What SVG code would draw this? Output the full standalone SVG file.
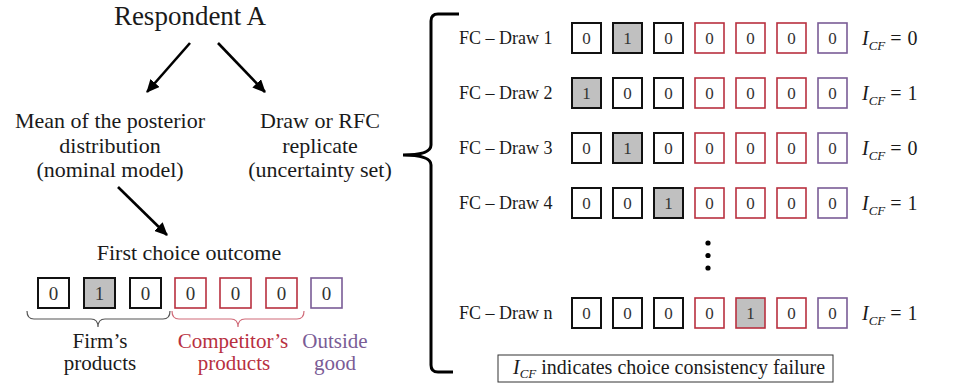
<svg xmlns="http://www.w3.org/2000/svg" width="978" height="384" viewBox="0 0 978 384" font-family="'Liberation Serif', 'DejaVu Serif', serif">
  <defs>
    <marker id="arrow" markerUnits="userSpaceOnUse" markerWidth="14" markerHeight="12" refX="12" refY="6" orient="auto">
      <path d="M0,0 L13,6 L0,12 Z" fill="#000"/>
    </marker>
    <style>
      text { font-family: 'Liberation Serif', 'DejaVu Serif', serif; fill: #1a1a1a; }
      .t22 { font-size: 22px; }
      .t21 { font-size: 21px; }
      .lbl { font-size: 18px; }
      .dig { font-size: 17px; text-anchor: middle; fill: #333; }
      .digL { font-size: 19px; text-anchor: middle; fill: #333; }
      .math { font-size: 20px; }
      .it { font-style: italic; }
      .sub { font-size: 13px; font-style: italic; }
      .mid { text-anchor: middle; }
      .firm { fill: #fff; stroke: #111; stroke-width: 2; }
      .comp { fill: #fff; stroke: #b8303f; stroke-width: 1.6; }
      .out  { fill: #fff; stroke: #7a5c96; stroke-width: 1.6; }
      .on   { fill: #c0c0c0; }
      .red  { fill: #b8303f; }
      .purple { fill: #7a5c96; }
      .conn { stroke: #000; stroke-width: 2.6; fill: none; }
    </style>
  </defs>

  <!-- connectors -->
  <g id="connectors">
    <line class="conn" x1="190" y1="43" x2="147" y2="92" marker-end="url(#arrow)"/>
    <line class="conn" x1="218" y1="43" x2="265" y2="92" marker-end="url(#arrow)"/>
    <line class="conn" x1="118" y1="187" x2="167" y2="235" marker-end="url(#arrow)"/>
    <!-- large brace gathering the draws -->
    <path d="M459,14 H438 Q431,14 431,21 V145 Q431,155 403,155 Q431,155 431,165 V365 Q431,372 438,372 H453" fill="none" stroke="#000" stroke-width="3"/>
  </g>

  <g id="respondent">
    <text x="190" y="25" class="mid" style="font-size:27px">Respondent A</text>
  </g>

  <g id="nominal">
    <text x="110" y="128" class="mid t22">Mean of the posterior</text>
    <text x="110" y="153" class="mid t22">distribution</text>
    <text x="110" y="177" class="mid t22">(nominal model)</text>
  </g>

  <g id="replicate">
    <text x="320" y="128" class="mid t22">Draw or RFC</text>
    <text x="320" y="153" class="mid t22">replicate</text>
    <text x="320" y="177" class="mid t22">(uncertainty set)</text>
  </g>

  <g id="first-choice">
    <text x="189" y="260" class="mid t22">First choice outcome</text>
    <rect class="firm" x="38" y="278" width="31" height="30"/>
    <rect class="firm on" x="84" y="278" width="31" height="30"/>
    <rect class="firm" x="130" y="278" width="31" height="30"/>
    <rect class="comp" x="175" y="278" width="31" height="30"/>
    <rect class="comp" x="220" y="278" width="31" height="30"/>
    <rect class="comp" x="266" y="278" width="31" height="30"/>
    <rect class="out" x="311" y="278" width="31" height="30"/>
    <text x="53.5" y="300" class="digL">0</text>
    <text x="99.5" y="300" class="digL">1</text>
    <text x="145.5" y="300" class="digL">0</text>
    <text x="190.5" y="300" class="digL">0</text>
    <text x="235.5" y="300" class="digL">0</text>
    <text x="281.5" y="300" class="digL">0</text>
    <text x="326.5" y="300" class="digL">0</text>
    <!-- group braces -->
    <path d="M27,311 Q27,319 34,319 H91 Q98,319 98,327 Q98,319 105,319 H163 Q170,319 170,311" fill="none" stroke="#555" stroke-width="1.2"/>
    <path d="M172,311 Q172,319 179,319 H231 Q238,319 238,327 Q238,319 245,319 H297 Q304,319 304,311" fill="none" stroke="#d06a78" stroke-width="1.2"/>
    <text x="100" y="348" class="mid t21">Firm’s</text>
    <text x="100" y="370" class="mid t21">products</text>
    <text x="233" y="348" class="mid t21 red">Competitor’s</text>
    <text x="234" y="370" class="mid t21 red">products</text>
    <text x="335" y="348" class="mid t21 purple">Outside</text>
    <text x="335" y="370" class="mid t21 purple">good</text>
  </g>

  <!-- draw rows: boxes at x = 572 + 41k -->
  <g id="draw-1">
    <text x="459" y="44" class="lbl">FC – Draw 1</text>
    <rect class="firm" x="572" y="23" width="29" height="30"/>
    <rect class="firm on" x="613" y="23" width="29" height="30"/>
    <rect class="firm" x="654" y="23" width="29" height="30"/>
    <rect class="comp" x="695" y="23" width="29" height="30"/>
    <rect class="comp" x="736" y="23" width="29" height="30"/>
    <rect class="comp" x="777" y="23" width="29" height="30"/>
    <rect class="out" x="818" y="23" width="29" height="30"/>
    <text x="586.5" y="44" class="dig">0</text>
    <text x="627.5" y="44" class="dig">1</text>
    <text x="668.5" y="44" class="dig">0</text>
    <text x="709.5" y="44" class="dig">0</text>
    <text x="750.5" y="44" class="dig">0</text>
    <text x="791.5" y="44" class="dig">0</text>
    <text x="832.5" y="44" class="dig">0</text>
    <text x="862" y="45" class="math"><tspan class="it">I</tspan><tspan class="sub" dy="5">CF</tspan><tspan dy="-5" dx="5">=</tspan><tspan dx="6">0</tspan></text>
  </g>

  <g id="draw-2">
    <text x="459" y="99" class="lbl">FC – Draw 2</text>
    <rect class="firm on" x="572" y="78" width="29" height="30"/>
    <rect class="firm" x="613" y="78" width="29" height="30"/>
    <rect class="firm" x="654" y="78" width="29" height="30"/>
    <rect class="comp" x="695" y="78" width="29" height="30"/>
    <rect class="comp" x="736" y="78" width="29" height="30"/>
    <rect class="comp" x="777" y="78" width="29" height="30"/>
    <rect class="out" x="818" y="78" width="29" height="30"/>
    <text x="586.5" y="99" class="dig">1</text>
    <text x="627.5" y="99" class="dig">0</text>
    <text x="668.5" y="99" class="dig">0</text>
    <text x="709.5" y="99" class="dig">0</text>
    <text x="750.5" y="99" class="dig">0</text>
    <text x="791.5" y="99" class="dig">0</text>
    <text x="832.5" y="99" class="dig">0</text>
    <text x="862" y="100" class="math"><tspan class="it">I</tspan><tspan class="sub" dy="5">CF</tspan><tspan dy="-5" dx="5">=</tspan><tspan dx="6">1</tspan></text>
  </g>

  <g id="draw-3">
    <text x="459" y="154" class="lbl">FC – Draw 3</text>
    <rect class="firm" x="572" y="133" width="29" height="30"/>
    <rect class="firm on" x="613" y="133" width="29" height="30"/>
    <rect class="firm" x="654" y="133" width="29" height="30"/>
    <rect class="comp" x="695" y="133" width="29" height="30"/>
    <rect class="comp" x="736" y="133" width="29" height="30"/>
    <rect class="comp" x="777" y="133" width="29" height="30"/>
    <rect class="out" x="818" y="133" width="29" height="30"/>
    <text x="586.5" y="154" class="dig">0</text>
    <text x="627.5" y="154" class="dig">1</text>
    <text x="668.5" y="154" class="dig">0</text>
    <text x="709.5" y="154" class="dig">0</text>
    <text x="750.5" y="154" class="dig">0</text>
    <text x="791.5" y="154" class="dig">0</text>
    <text x="832.5" y="154" class="dig">0</text>
    <text x="862" y="155" class="math"><tspan class="it">I</tspan><tspan class="sub" dy="5">CF</tspan><tspan dy="-5" dx="5">=</tspan><tspan dx="6">0</tspan></text>
  </g>

  <g id="draw-4">
    <text x="459" y="209" class="lbl">FC – Draw 4</text>
    <rect class="firm" x="572" y="188" width="29" height="30"/>
    <rect class="firm" x="613" y="188" width="29" height="30"/>
    <rect class="firm on" x="654" y="188" width="29" height="30"/>
    <rect class="comp" x="695" y="188" width="29" height="30"/>
    <rect class="comp" x="736" y="188" width="29" height="30"/>
    <rect class="comp" x="777" y="188" width="29" height="30"/>
    <rect class="out" x="818" y="188" width="29" height="30"/>
    <text x="586.5" y="209" class="dig">0</text>
    <text x="627.5" y="209" class="dig">0</text>
    <text x="668.5" y="209" class="dig">1</text>
    <text x="709.5" y="209" class="dig">0</text>
    <text x="750.5" y="209" class="dig">0</text>
    <text x="791.5" y="209" class="dig">0</text>
    <text x="832.5" y="209" class="dig">0</text>
    <text x="862" y="210" class="math"><tspan class="it">I</tspan><tspan class="sub" dy="5">CF</tspan><tspan dy="-5" dx="5">=</tspan><tspan dx="6">1</tspan></text>
  </g>

  <g id="ellipsis">
    <circle cx="708" cy="243" r="2.6" fill="#000"/>
    <circle cx="708" cy="255.5" r="2.6" fill="#000"/>
    <circle cx="708" cy="268" r="2.6" fill="#000"/>
  </g>

  <g id="draw-n">
    <text x="459" y="319" class="lbl">FC – Draw n</text>
    <rect class="firm" x="572" y="298" width="29" height="30"/>
    <rect class="firm" x="613" y="298" width="29" height="30"/>
    <rect class="firm" x="654" y="298" width="29" height="30"/>
    <rect class="comp" x="695" y="298" width="29" height="30"/>
    <rect class="comp on" x="736" y="298" width="29" height="30"/>
    <rect class="comp" x="777" y="298" width="29" height="30"/>
    <rect class="out" x="818" y="298" width="29" height="30"/>
    <text x="586.5" y="319" class="dig">0</text>
    <text x="627.5" y="319" class="dig">0</text>
    <text x="668.5" y="319" class="dig">0</text>
    <text x="709.5" y="319" class="dig">0</text>
    <text x="750.5" y="319" class="dig">1</text>
    <text x="791.5" y="319" class="dig">0</text>
    <text x="832.5" y="319" class="dig">0</text>
    <text x="862" y="320" class="math"><tspan class="it">I</tspan><tspan class="sub" dy="5">CF</tspan><tspan dy="-5" dx="5">=</tspan><tspan dx="6">1</tspan></text>
  </g>

  <g id="legend">
    <rect x="498" y="355" width="335" height="27" fill="#fff" stroke="#333" stroke-width="1"/>
    <text x="513" y="374" style="font-size:20px"><tspan class="it">I</tspan><tspan class="sub" dy="4">CF</tspan><tspan dy="-4"> indicates choice consistency failure</tspan></text>
  </g>
</svg>
